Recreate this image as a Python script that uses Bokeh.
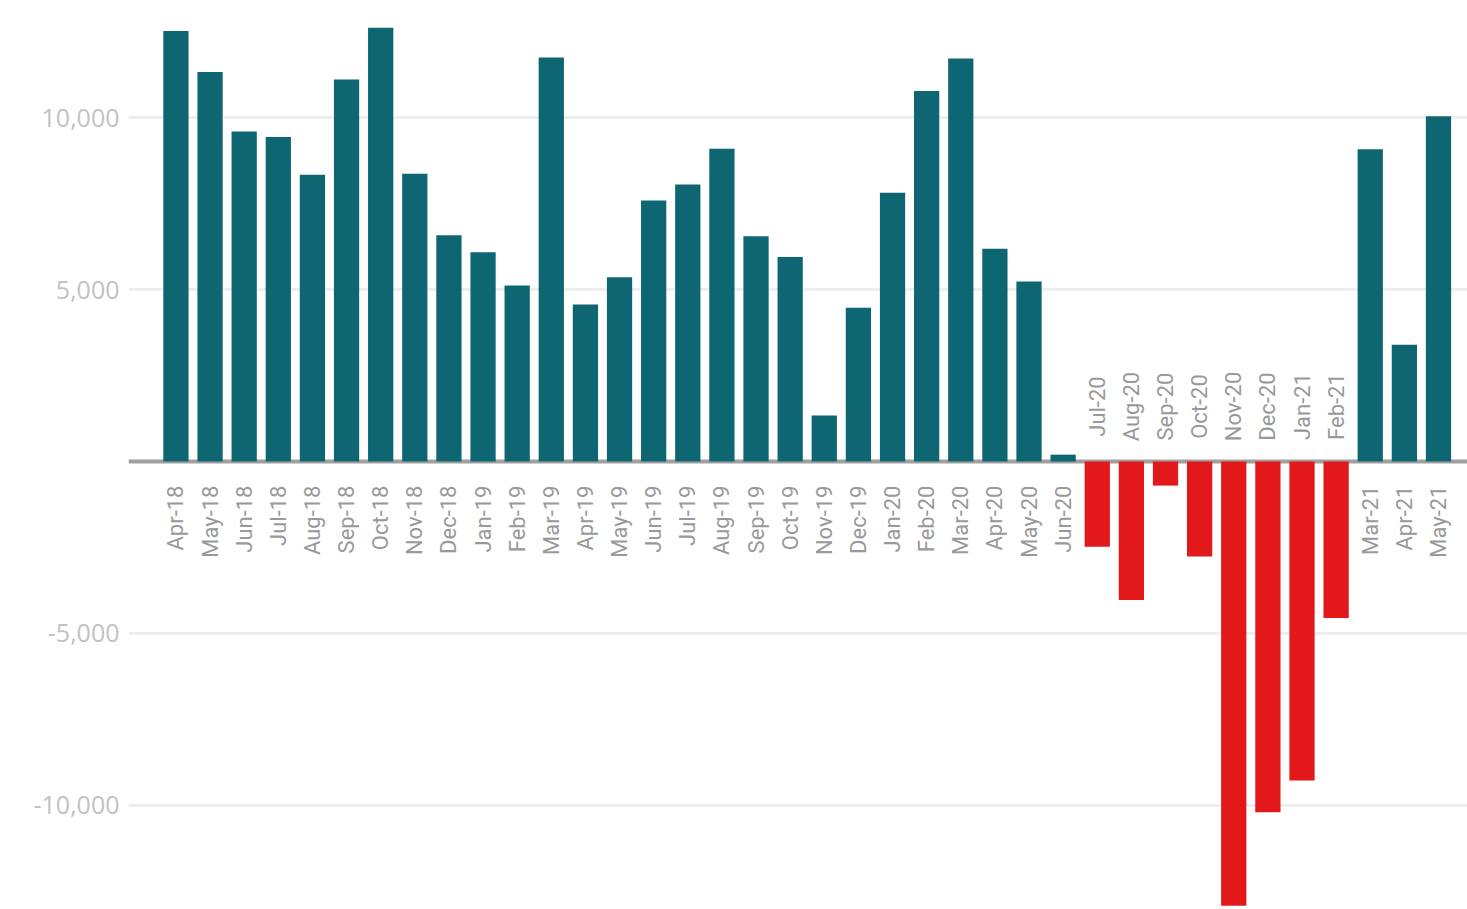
from bokeh.plotting import figure
from bokeh.models import Range1d, FixedTicker, NumeralTickFormatter, Span, ColumnDataSource
from bokeh.core.properties import value
from bokeh.embed import file_html
from bokeh.resources import INLINE
import math

months = ["Apr-18", "May-18", "Jun-18", "Jul-18", "Aug-18", "Sep-18", "Oct-18", "Nov-18", "Dec-18",
          "Jan-19", "Feb-19", "Mar-19", "Apr-19", "May-19", "Jun-19", "Jul-19", "Aug-19", "Sep-19",
          "Oct-19", "Nov-19", "Dec-19", "Jan-20", "Feb-20", "Mar-20", "Apr-20", "May-20", "Jun-20",
          "Jul-20", "Aug-20", "Sep-20", "Oct-20", "Nov-20", "Dec-20", "Jan-21", "Feb-21",
          "Mar-21", "Apr-21", "May-21"]
values = [12520, 11330, 9600, 9440, 8340, 11110, 12620, 8370, 6580,
          6090, 5120, 11750, 4570, 5360, 7590, 8060, 9100, 6550,
          5950, 1340, 4470, 7820, 10780, 11720, 6190, 5240, 200,
          -2480, -4030, -700, -2760, -12920, -10200, -9280, -4550,
          9080, 3400, 10040]
y_ticks = [-10000, -5000, 5000, 10000]

POS = "#0e6672"
NEG = "#e2181b"

idx = list(range(len(months)))
colors = [POS if v >= 0 else NEG for v in values]
src = ColumnDataSource(dict(x=idx, top=values, color=colors))

p = figure(width=1467, height=909, output_backend="svg", toolbar_location=None,
           x_range=Range1d(-1.39, 37.85), y_range=Range1d(-13030, 13410),
           min_border_left=128, min_border_right=0, min_border_top=0, min_border_bottom=0)
p.outline_line_color = None
p.background_fill_color = "white"
p.border_fill_color = "white"

p.xaxis.visible = False
p.xgrid.visible = False

p.yaxis.ticker = FixedTicker(ticks=y_ticks)
p.yaxis.formatter = NumeralTickFormatter(format="0,0")
p.yaxis.axis_line_color = None
p.yaxis.major_tick_line_color = None
p.yaxis.minor_tick_line_color = None
p.yaxis.major_tick_out = 0
p.yaxis.major_tick_in = 0
p.yaxis.major_label_standoff = 9
p.yaxis.major_label_text_font = "Open Sans"
p.yaxis.major_label_text_font_size = "25px"
p.yaxis.major_label_text_color = "#c2c2c2"

p.ygrid.ticker = FixedTicker(ticks=y_ticks)
p.ygrid.grid_line_color = "#eeeeee"
p.ygrid.grid_line_width = 3

p.add_layout(Span(location=0, dimension="width", line_color="#a0a0a0", line_width=4, level="underlay"))

p.vbar(x="x", top="top", bottom=0, width=0.74, fill_color="color", line_color=None, source=src)

pos_src = ColumnDataSource(dict(x=[i for i, v in zip(idx, values) if v >= 0],
                                t=[m for m, v in zip(months, values) if v >= 0]))
neg_src = ColumnDataSource(dict(x=[i for i, v in zip(idx, values) if v < 0],
                                t=[m for m, v in zip(months, values) if v < 0]))

p.text(x="x", y=0, text="t", source=pos_src, angle=math.pi / 2, text_align="right",
       text_baseline="middle", y_offset=24, text_font=value("Roboto"),
       text_font_size="22px", text_color="#999999")
p.text(x="x", y=0, text="t", source=neg_src, angle=math.pi / 2, text_align="center",
       text_baseline="middle", y_offset=-55, text_font=value("Roboto"),
       text_font_size="22px", text_color="#999999")

open("out.html", "w").write(file_html(p, INLINE))
